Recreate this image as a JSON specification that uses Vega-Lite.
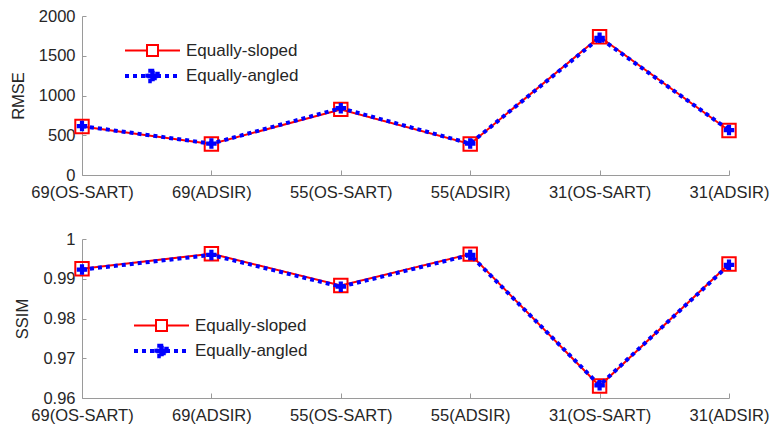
{
  "$schema": "https://vega.github.io/schema/vega-lite/v6.json",
  "background": "white",
  "padding": {"left": 10, "top": 8, "right": 2, "bottom": 2},
  "config": {
    "view": {"stroke": null},
    "font": "Liberation Sans",
    "axis": {
      "grid": false,
      "domainColor": "#9a9a9a",
      "tickColor": "#9a9a9a",
      "labelFont": "Liberation Sans",
      "labelFontSize": 16.5,
      "labelColor": "#262626",
      "titleFont": "Liberation Sans",
      "titleFontSize": 16.5,
      "titleFontWeight": "normal",
      "titleColor": "#262626"
    }
  },
  "datasets": {
    "rmse": [
      {"cond": "69(OS-SART)", "series": "Equally-sloped", "value": 610},
      {"cond": "69(ADSIR)", "series": "Equally-sloped", "value": 390},
      {"cond": "55(OS-SART)", "series": "Equally-sloped", "value": 825},
      {"cond": "55(ADSIR)", "series": "Equally-sloped", "value": 390},
      {"cond": "31(OS-SART)", "series": "Equally-sloped", "value": 1740},
      {"cond": "31(ADSIR)", "series": "Equally-sloped", "value": 560},
      {"cond": "69(OS-SART)", "series": "Equally-angled", "value": 615},
      {"cond": "69(ADSIR)", "series": "Equally-angled", "value": 395},
      {"cond": "55(OS-SART)", "series": "Equally-angled", "value": 840},
      {"cond": "55(ADSIR)", "series": "Equally-angled", "value": 395},
      {"cond": "31(OS-SART)", "series": "Equally-angled", "value": 1725},
      {"cond": "31(ADSIR)", "series": "Equally-angled", "value": 565}
    ],
    "ssim": [
      {"cond": "69(OS-SART)", "series": "Equally-sloped", "value": 0.9925},
      {"cond": "69(ADSIR)", "series": "Equally-sloped", "value": 0.9963},
      {"cond": "55(OS-SART)", "series": "Equally-sloped", "value": 0.9883},
      {"cond": "55(ADSIR)", "series": "Equally-sloped", "value": 0.9962},
      {"cond": "31(OS-SART)", "series": "Equally-sloped", "value": 0.963},
      {"cond": "31(ADSIR)", "series": "Equally-sloped", "value": 0.9937},
      {"cond": "69(OS-SART)", "series": "Equally-angled", "value": 0.9923},
      {"cond": "69(ADSIR)", "series": "Equally-angled", "value": 0.996},
      {"cond": "55(OS-SART)", "series": "Equally-angled", "value": 0.988},
      {"cond": "55(ADSIR)", "series": "Equally-angled", "value": 0.996},
      {"cond": "31(OS-SART)", "series": "Equally-angled", "value": 0.9632},
      {"cond": "31(ADSIR)", "series": "Equally-angled", "value": 0.9935}
    ]
  },
  "spacing": 30,
  "resolve": {
    "scale": {"x": "independent", "y": "independent", "stroke": "independent", "fill": "independent", "shape": "independent", "strokeDash": "independent", "strokeWidth": "independent"},
    "legend": {"stroke": "independent", "fill": "independent", "shape": "independent", "strokeDash": "independent", "strokeWidth": "independent"}
  },
  "vconcat": [
    {
      "width": 647,
      "height": 159,
      "data": {"name": "rmse"},
      "encoding": {
        "x": {"field": "cond", "type": "nominal", "sort": null, "scale": {"type": "point", "padding": 0}, "axis": {"title": null, "labelAngle": 0, "tickSize": -5, "labelPadding": 14}},
        "y": {"field": "value", "type": "quantitative", "scale": {"domain": [0, 2000]}, "axis": {"title": "RMSE", "values": [0, 500, 1000, 1500, 2000], "format": "d", "tickSize": -4, "labelPadding": 11, "titlePadding": 12}}
      },
      "layer": [
        {"transform": [{"filter": "datum.series == 'Equally-sloped'"}], "mark": {"type": "line", "color": "#ff0000", "strokeWidth": 2}},
        {"transform": [{"filter": "datum.series == 'Equally-sloped'"}], "mark": {"type": "point", "shape": "square", "size": 180, "filled": false, "color": "#ff0000", "strokeWidth": 2, "opacity": 1}},
        {"transform": [{"filter": "datum.series == 'Equally-angled'"}], "mark": {"type": "line", "color": "#0000ff", "strokeWidth": 4, "strokeDash": [4, 4]}},
        {"transform": [{"filter": "datum.series == 'Equally-angled'"}], "mark": {"type": "point", "shape": "cross", "size": 110, "filled": true, "color": "#0000ff", "opacity": 1}},
        {
          "mark": {"type": "point", "opacity": 0},
          "encoding": {
            "stroke": {"field": "series", "type": "nominal", "scale": {"domain": ["Equally-sloped", "Equally-angled"], "range": ["#ff0000", "#0000ff"]},
              "legend": {"title": null, "orient": "none", "legendX": 41, "legendY": 26, "symbolSize": 225, "labelOffset": 44, "rowPadding": 2.5, "labelFontSize": 17, "labelFont": "Liberation Sans", "labelColor": "#262626", "symbolOpacity": 1}},
            "fill": {"field": "series", "type": "nominal", "scale": {"domain": ["Equally-sloped", "Equally-angled"], "range": ["transparent", "#0000ff"]},
              "legend": {"title": null, "orient": "none", "legendX": 41, "legendY": 26, "symbolSize": 225, "labelOffset": 44, "rowPadding": 2.5, "labelFontSize": 17, "labelFont": "Liberation Sans", "labelColor": "#262626", "symbolOpacity": 1}},
            "shape": {"field": "series", "type": "nominal", "scale": {"domain": ["Equally-sloped", "Equally-angled"], "range": ["M-1,0H1.933M3.4,0H6.333M1.933,-0.733H3.4V0.733H1.933Z", "M-1,0H6.333M2.367,-0.7H2.967V-0.3H3.367V0.3H2.967V0.7H2.367V0.3H1.967V-0.3H2.367Z"]},
              "legend": {"title": null, "orient": "none", "legendX": 41, "legendY": 26, "symbolSize": 225, "labelOffset": 44, "rowPadding": 2.5, "labelFontSize": 17, "labelFont": "Liberation Sans", "labelColor": "#262626", "symbolOpacity": 1}},
            "strokeDash": {"field": "series", "type": "nominal", "scale": {"domain": ["Equally-sloped", "Equally-angled"], "range": [[1, 0], [4, 4]]},
              "legend": {"title": null, "orient": "none", "legendX": 41, "legendY": 26, "symbolSize": 225, "labelOffset": 44, "rowPadding": 2.5, "labelFontSize": 17, "labelFont": "Liberation Sans", "labelColor": "#262626", "symbolOpacity": 1}},
            "strokeWidth": {"field": "series", "type": "nominal", "scale": {"domain": ["Equally-sloped", "Equally-angled"], "range": [2, 4]},
              "legend": {"title": null, "orient": "none", "legendX": 41, "legendY": 26, "symbolSize": 225, "labelOffset": 44, "rowPadding": 2.5, "labelFontSize": 17, "labelFont": "Liberation Sans", "labelColor": "#262626", "symbolOpacity": 1}}
          }
        }
      ]
    },
    {
      "width": 647,
      "height": 159,
      "data": {"name": "ssim"},
      "encoding": {
        "x": {"field": "cond", "type": "nominal", "sort": null, "scale": {"type": "point", "padding": 0}, "axis": {"title": null, "labelAngle": 0, "tickSize": -5, "labelPadding": 14}},
        "y": {"field": "value", "type": "quantitative", "scale": {"domain": [0.96, 1]}, "axis": {"title": "SSIM", "values": [0.96, 0.97, 0.98, 0.99, 1], "format": ".2~f", "tickSize": -4, "labelPadding": 11, "titlePadding": 12}}
      },
      "layer": [
        {"transform": [{"filter": "datum.series == 'Equally-sloped'"}], "mark": {"type": "line", "color": "#ff0000", "strokeWidth": 2}},
        {"transform": [{"filter": "datum.series == 'Equally-sloped'"}], "mark": {"type": "point", "shape": "square", "size": 180, "filled": false, "color": "#ff0000", "strokeWidth": 2, "opacity": 1}},
        {"transform": [{"filter": "datum.series == 'Equally-angled'"}], "mark": {"type": "line", "color": "#0000ff", "strokeWidth": 4, "strokeDash": [4, 4]}},
        {"transform": [{"filter": "datum.series == 'Equally-angled'"}], "mark": {"type": "point", "shape": "cross", "size": 110, "filled": true, "color": "#0000ff", "opacity": 1}},
        {
          "mark": {"type": "point", "opacity": 0},
          "encoding": {
            "stroke": {"field": "series", "type": "nominal", "scale": {"domain": ["Equally-sloped", "Equally-angled"], "range": ["#ff0000", "#0000ff"]},
              "legend": {"title": null, "orient": "none", "legendX": 50, "legendY": 78, "symbolSize": 225, "labelOffset": 44, "rowPadding": 2.5, "labelFontSize": 17, "labelFont": "Liberation Sans", "labelColor": "#262626", "symbolOpacity": 1}},
            "fill": {"field": "series", "type": "nominal", "scale": {"domain": ["Equally-sloped", "Equally-angled"], "range": ["transparent", "#0000ff"]},
              "legend": {"title": null, "orient": "none", "legendX": 50, "legendY": 78, "symbolSize": 225, "labelOffset": 44, "rowPadding": 2.5, "labelFontSize": 17, "labelFont": "Liberation Sans", "labelColor": "#262626", "symbolOpacity": 1}},
            "shape": {"field": "series", "type": "nominal", "scale": {"domain": ["Equally-sloped", "Equally-angled"], "range": ["M-1,0H1.933M3.4,0H6.333M1.933,-0.733H3.4V0.733H1.933Z", "M-1,0H6.333M2.367,-0.7H2.967V-0.3H3.367V0.3H2.967V0.7H2.367V0.3H1.967V-0.3H2.367Z"]},
              "legend": {"title": null, "orient": "none", "legendX": 50, "legendY": 78, "symbolSize": 225, "labelOffset": 44, "rowPadding": 2.5, "labelFontSize": 17, "labelFont": "Liberation Sans", "labelColor": "#262626", "symbolOpacity": 1}},
            "strokeDash": {"field": "series", "type": "nominal", "scale": {"domain": ["Equally-sloped", "Equally-angled"], "range": [[1, 0], [4, 4]]},
              "legend": {"title": null, "orient": "none", "legendX": 50, "legendY": 78, "symbolSize": 225, "labelOffset": 44, "rowPadding": 2.5, "labelFontSize": 17, "labelFont": "Liberation Sans", "labelColor": "#262626", "symbolOpacity": 1}},
            "strokeWidth": {"field": "series", "type": "nominal", "scale": {"domain": ["Equally-sloped", "Equally-angled"], "range": [2, 4]},
              "legend": {"title": null, "orient": "none", "legendX": 50, "legendY": 78, "symbolSize": 225, "labelOffset": 44, "rowPadding": 2.5, "labelFontSize": 17, "labelFont": "Liberation Sans", "labelColor": "#262626", "symbolOpacity": 1}}
          }
        }
      ]
    }
  ]
}
